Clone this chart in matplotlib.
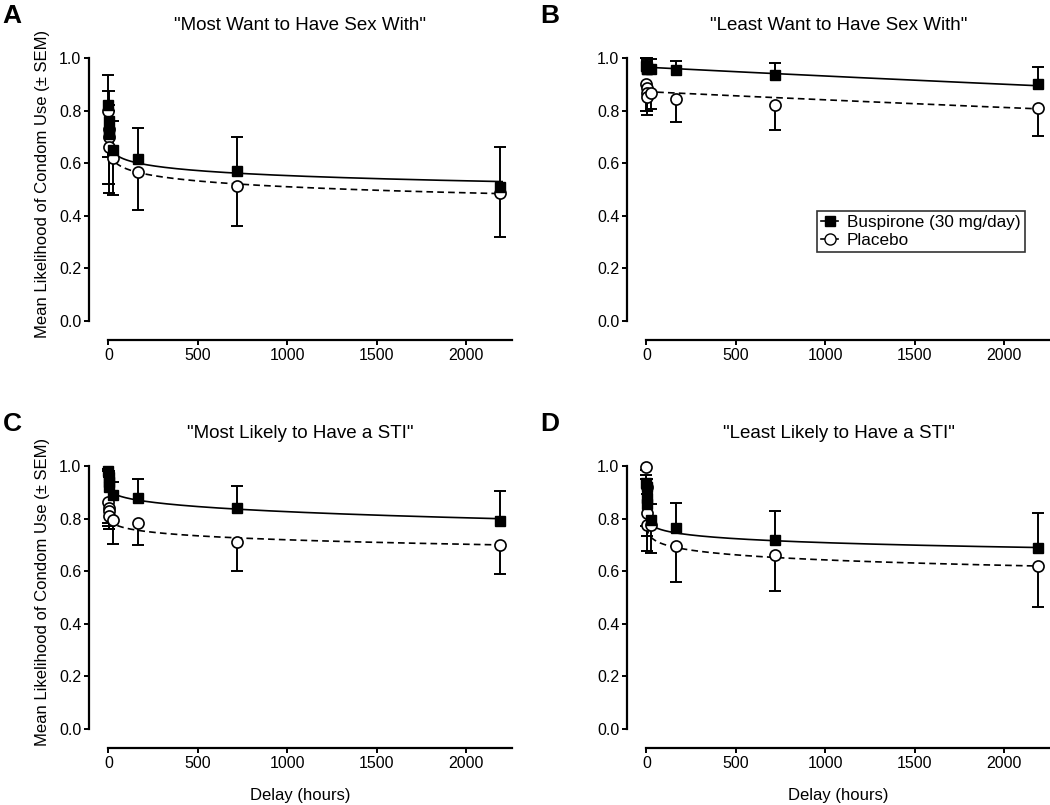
import matplotlib
matplotlib.use("Agg")
import matplotlib.pyplot as plt
from matplotlib.lines import Line2D
import numpy as np

plt.rcParams["font.family"] = ["Liberation Sans", "DejaVu Sans"]

# Delays (hours)
delays = [0, 1, 3, 6, 24, 168, 720, 2190]

panel_letters = ["A", "B", "C", "D"]
panel_titles = ['"Most Want to Have Sex With"', '"Least Want to Have Sex With"',
                '"Most Likely to Have a STI"', '"Least Likely to Have a STI"']

# Buspirone means and SEM (drawn upward)
busp_mean = [
    [0.82, 0.76, 0.72, 0.71, 0.65, 0.615, 0.57, 0.51],
    [0.97, 0.965, 0.96, 0.96, 0.96, 0.955, 0.935, 0.90],
    [0.98, 0.96, 0.94, 0.92, 0.89, 0.88, 0.84, 0.79],
    [0.935, 0.92, 0.88, 0.855, 0.795, 0.765, 0.72, 0.69],
]
busp_sem = [
    [0.115, 0.115, 0.10, 0.09, 0.11, 0.12, 0.13, 0.15],
    [0.03, 0.035, 0.03, 0.035, 0.035, 0.035, 0.045, 0.065],
    [0.01, 0.02, 0.03, 0.04, 0.05, 0.07, 0.085, 0.115],
    [0.03, 0.03, 0.04, 0.04, 0.06, 0.095, 0.11, 0.13],
]
# Placebo means and SEM (drawn downward)
plac_mean = [
    [0.80, 0.73, 0.70, 0.66, 0.62, 0.567, 0.515, 0.485],
    [0.90, 0.885, 0.866, 0.853, 0.866, 0.843, 0.82, 0.81],
    [0.864, 0.84, 0.83, 0.81, 0.795, 0.785, 0.71, 0.70],
    [0.995, 0.92, 0.823, 0.775, 0.775, 0.695, 0.66, 0.62],
]
plac_sem = [
    [0.175, 0.21, 0.18, 0.175, 0.14, 0.145, 0.155, 0.165],
    [0.10, 0.085, 0.066, 0.07, 0.06, 0.085, 0.095, 0.105],
    [0.08, 0.07, 0.07, 0.05, 0.09, 0.085, 0.11, 0.11],
    [0.01, 0.15, 0.09, 0.10, 0.105, 0.135, 0.135, 0.155],
]

# Hyperboloid fit parameters V = amp / (1 + k * D**s)
busp_fit = [(0.80, 0.143, 0.165), (0.965, 3.6e-5, 1.0), (0.93, 0.0125, 0.334), (0.88, 0.078, 0.164)]
plac_fit = [(0.76, 0.128, 0.194), (0.872, 3.7e-5, 1.0), (0.84, 0.0357, 0.224), (0.85, 0.091, 0.183)]

W, H = 1050, 805
fig = plt.figure(figsize=(W / 100, H / 100), dpi=100)

# pixel layout: left spine x and y of the 1.0 tick
lefts = [89, 627, 89, 627]
tops = [58, 58, 466, 466]
ax_w, ax_h = 423, 263
cap_half = 34  # data units

xd = np.concatenate([np.linspace(0, 30, 300), np.linspace(30, 2200, 600)])

for i in range(4):
    ax = fig.add_axes([lefts[i] / W, 1 - (tops[i] + ax_h) / H, ax_w / W, ax_h / H])
    x = np.array(delays, dtype=float)
    bm, bs = np.array(busp_mean[i]), np.array(busp_sem[i])
    pm, ps = np.array(plac_mean[i]), np.array(plac_sem[i])

    a, k, s = busp_fit[i]
    ax.plot(xd, a / (1 + k * xd ** s), color="black", lw=1.2, zorder=2, clip_on=False)
    a, k, s = plac_fit[i]
    ax.plot(xd, a / (1 + k * xd ** s), color="black", lw=1.2, ls=(0, (4, 2.5)), zorder=2, clip_on=False)

    # one-sided error bars: buspirone up, placebo down
    ax.vlines(x, bm, bm + bs, color="black", lw=1.4, zorder=3, clip_on=False)
    ax.hlines(bm + bs, x - cap_half, x + cap_half, color="black", lw=1.4, zorder=3, clip_on=False)
    ax.vlines(x, pm - ps, pm, color="black", lw=1.4, zorder=3, clip_on=False)
    ax.hlines(pm - ps, x - cap_half, x + cap_half, color="black", lw=1.4, zorder=3, clip_on=False)

    ax.plot(x, pm, "o", ms=8, mfc="white", mec="black", mew=1.2, ls="none", zorder=4, clip_on=False)
    ax.plot(x, bm, "s", ms=6.5, mfc="black", mec="black", ls="none", zorder=5, clip_on=False)

    ax.set_xlim(-108, 2255)
    ax.set_ylim(0, 1.0)
    ax.set_xticks([0, 500, 1000, 1500, 2000])
    ax.set_yticks([0.0, 0.2, 0.4, 0.6, 0.8, 1.0])
    ax.set_yticklabels(["0.0", "0.2", "0.4", "0.6", "0.8", "1.0"])
    for side in ["top", "right"]:
        ax.spines[side].set_visible(False)
    ax.spines["left"].set_linewidth(1.6)
    ax.spines["bottom"].set_linewidth(1.6)
    ax.spines["bottom"].set_bounds(0, 2255)
    ax.spines["bottom"].set_position(("outward", 13.7))
    ax.tick_params(axis="both", direction="out", length=3.5, width=1.4, labelsize=11.5, pad=2)

    cx = (lefts[i] + ax_w / 2) / W
    fig.text(cx, 1 - (tops[i] - 33) / H, panel_titles[i], ha="center", va="center", fontsize=13.5)
    fig.text((12 if lefts[i] < 300 else 550) / W, 1 - (tops[i] - 42) / H, panel_letters[i],
             ha="center", va="center", fontsize=19, fontweight="bold")
    if i in (0, 2):
        fig.text(43 / W, 1 - (tops[i] + 126) / H, "Mean Likelihood of Condom Use (\u00b1 SEM)",
                 rotation=90, ha="center", va="center", fontsize=12)
    if i in (2, 3):
        fig.text(cx, 1 - 795 / H, "Delay (hours)", ha="center", va="center", fontsize=12)
    if i == 1:
        handles = [
            Line2D([], [], color="black", lw=1.2, marker="s", ms=6.5, mfc="black"),
            Line2D([], [], color="black", lw=1.2, marker="o", ms=8, mfc="white"),
        ]
        leg = ax.legend(handles, ["Buspirone (30 mg/day)", "Placebo"], loc="upper left",
                        bbox_to_anchor=(817 / W, 1 - 211 / H), bbox_transform=fig.transFigure,
                        fontsize=12.3, frameon=True, fancybox=False, edgecolor="black",
                        handlelength=1.0, handletextpad=0.5, borderpad=0.25, labelspacing=0.15,
                        borderaxespad=0)
        leg.get_frame().set_linewidth(1.2)

fig.savefig("out.png", dpi=100)
